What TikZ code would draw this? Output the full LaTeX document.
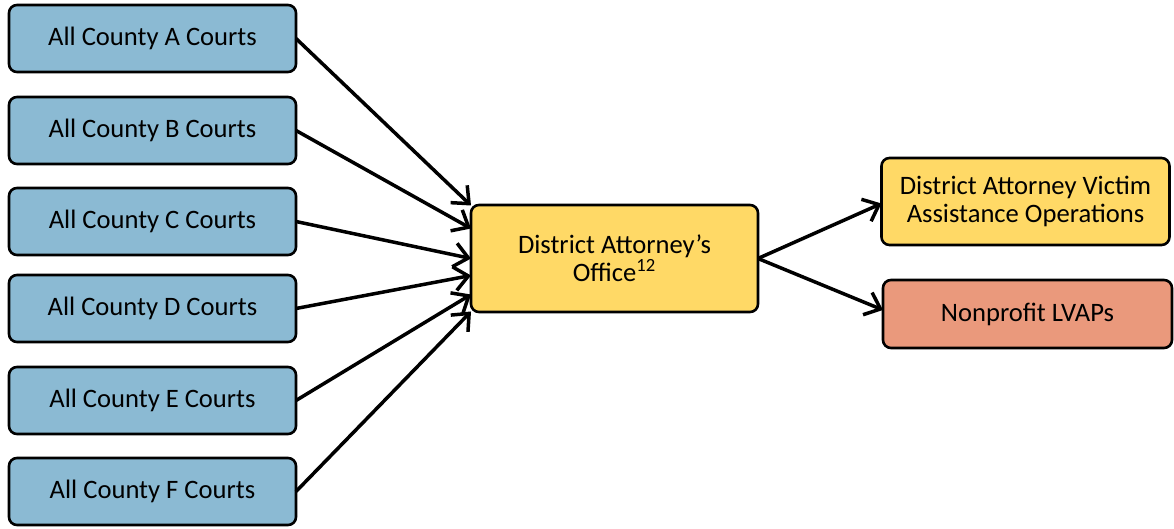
\documentclass[tikz,border=0pt]{standalone}
\usepackage{fontspec}
\setmainfont{Carlito}
\usepackage{xcolor}
\usetikzlibrary{arrows.meta,positioning}
\definecolor{courtblue}{RGB}{139,186,211}
\definecolor{dagold}{RGB}{255,217,102}
\definecolor{lvapsalmon}{RGB}{234,153,124}

\begin{document}
\begin{tikzpicture}[
  font=\fontsize{13.3}{14}\selectfont,
  box/.style={draw, line width=1.3pt, rounded corners=4pt, align=center, outer sep=0pt, inner sep=2pt},
  court/.style={box, fill=courtblue, minimum width=143.5pt, minimum height=33.5pt},
  arr/.style={-{Straight Barb[length=7pt,width=12pt]}, line width=1.75pt}
]
\useasboundingbox (0,0) rectangle (587pt,-264.5pt);
\node[court] (ca) at (76.25pt,-19.25pt) {All County A Courts};
\node[court, below=12.5pt of ca] (cb) {All County B Courts};
\node[court, below=12pt of cb] (cc) {All County C Courts};
\node[court, below=10pt of cc] (cd) {All County D Courts};
\node[court, below=12.5pt of cd] (ce) {All County E Courts};
\node[court, below=12pt of ce] (cf) {All County F Courts};
\node[box, fill=dagold, minimum width=143.5pt, minimum height=53.5pt] (da) at (307.25pt,-129.25pt) {District Attorney’s\\Office\textsuperscript{12}};
\node[box, fill=dagold, minimum width=144pt, minimum height=43.5pt] (vao) at (512.75pt,-100.75pt) {District Attorney Victim\\Assistance Operations};
\node[box, fill=lvapsalmon, minimum width=144.5pt, minimum height=34pt] (lvap) at (513.75pt,-157pt) {Nonprofit LVAPs};

\draw[arr] (ca.east) -- ([yshift=26.5pt]da.west);
\draw[arr] (cb.east) -- ([yshift=15pt]da.west);
\draw[arr] (cc.east) -- (da.west);
\draw[arr] (cd.east) -- ([yshift=-8.5pt]da.west);
\draw[arr] (ce.east) -- ([yshift=-18pt]da.west);
\draw[arr] (cf.east) -- ([yshift=-26.5pt]da.west);
\draw[arr] (da.east) -- ([yshift=-1pt]vao.west);
\draw[arr] (da.east) -- ([yshift=2pt]lvap.west);
\end{tikzpicture}
\end{document}
